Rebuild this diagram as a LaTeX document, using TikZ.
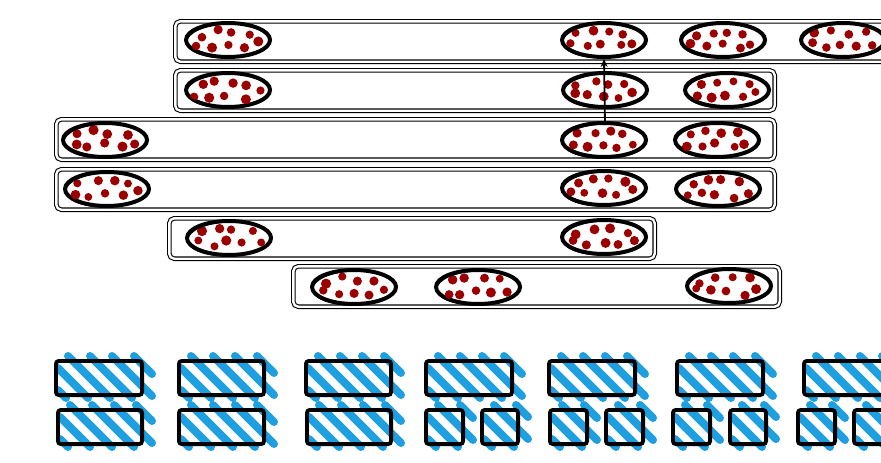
\documentclass[tikz,border=0pt]{standalone}
\usetikzlibrary{shapes.geometric,arrows.meta}
\definecolor{dotred}{HTML}{9A0000}
\definecolor{hatchblue}{HTML}{1E9FE0}
\tikzset{
 bar/.style={draw, double=white, double distance=2.4pt, line width=1.1pt, rounded corners=5pt, inner sep=0pt, minimum height=40.4pt},
 ell/.style={ellipse, draw, fill=white, line width=4pt, minimum width=84pt, minimum height=34pt, inner sep=0pt},
 hatch/.style={hatchblue, line width=8pt, line cap=round},
 hbox/.style={draw, line width=3.8pt, rounded corners=3pt, inner sep=0pt},
 blob/.pic={
   \node[ell] (-e) at (0,0) {};
   \foreach \bx/\by in {-27/-5,-11/-8,5/-7,21/-6,-31/5,-17/6,-1/5,15/7,30/3}{
     \pgfmathsetmacro\jx{\bx+rnd*6-3}
     \pgfmathsetmacro\jy{\by+rnd*5-2.5}
     \pgfmathsetmacro\dr{3.9+rnd*1.2}
     \fill[dotred] (\jx,\jy) circle (\dr pt);
   }
   \draw[line width=1.8pt, rotate=2] (0.5,0.5) ellipse (42 and 17);
 }
}
\newcommand\barbox[5]{%
  \pgfmathsetmacro\bw{#4-#2-4.6}%
  \node[bar, minimum width=\bw pt] (#1) at ({(#2+#4)/2},{(#3+#5)/2}) {};}
\newcommand\hbx[5]{%
  \pgfmathsetmacro\xa{#2+4}\pgfmathsetmacro\xb{#4+8}%
  \pgfmathsetmacro\ya{#3-3}\pgfmathsetmacro\yb{#5+1}%
  \foreach \k in {0,...,9}{%
    \pgfmathsetmacro\cc{\xa-\yb+8+22*\k}%
    \pgfmathsetmacro\sx{max(\cc+\ya,\xa)}\pgfmathsetmacro\sy{\sx-\cc}%
    \pgfmathsetmacro\ex{min(\cc+\yb,\xb)}\pgfmathsetmacro\ey{\ex-\cc}%
    \ifdim\sx pt<\ex pt \draw[hatch] (\sx,\sy) -- (\ex,\ey);\fi
    \ifdim\sx pt=\ex pt \draw[hatch] (\sx,\sy) -- (\ex,\ey);\fi
  }%
  \pgfmathsetmacro\hw{#4-#2-3.8}\pgfmathsetmacro\hh{#5-#3-3.8}%
  \node[hbox, minimum width=\hw pt, minimum height=\hh pt] (#1) at ({(#2+#4)/2},{(#3+#5)/2}) {};}
\begin{document}
\begin{tikzpicture}[x=1pt,y=-1pt]
\useasboundingbox (0,0) rectangle (881,463);
\pgfmathsetseed{11}
% bars
\barbox{b1}{173}{19}{895}{64}
\barbox{b2}{173}{68}{777}{113}
\barbox{b3}{54}{117}{777}{162}
\barbox{b4}{54}{167}{777}{212}
\barbox{b5}{167}{216}{657}{261}
\barbox{b6}{291}{264}{782}{309}
% ellipses
\pic (e11) at (228,40) {blob};
\pic (e12) at (604,40) {blob};
\pic (e13) at (723,40) {blob};
\pic (e14) at (843,40) {blob};
\pic (e21) at (228,90) {blob};
\pic (e22) at (605,90) {blob};
\pic (e23) at (727,90) {blob};
\pic (e31) at (105,140) {blob};
\pic (e32) at (604,140) {blob};
\pic (e33) at (717,140) {blob};
\pic (e41) at (107,189) {blob};
\pic (e42) at (604,188) {blob};
\pic (e43) at (718,189) {blob};
\pic (e51) at (229,238) {blob};
\pic (e52) at (604,237) {blob};
\pic (e61) at (354,287) {blob};
\pic (e62) at (478,287) {blob};
\pic (e63) at (729,286) {blob};
% arrow
\coordinate (astart) at (605,124);
\draw[line width=1.8pt, -{Stealth[length=8pt,width=7pt]}] (astart) -- (e12-e.south);
% bottom hatched boxes, row 1
\hbx{t1}{54}{359}{144}{397}
\hbx{t2}{177}{359}{266}{397}
\hbx{t3}{304}{359}{393}{397}
\hbx{t4}{424}{359}{514}{397}
\hbx{t5}{547}{359}{637}{397}
\hbx{t6}{675}{359}{765}{397}
\hbx{t7}{802}{359}{895}{397}
% row 2
\hbx{u1}{56}{408}{144}{446}
\hbx{u2}{177}{408}{266}{446}
\hbx{u3}{305}{408}{393}{446}
\hbx{u4a}{424}{408}{465}{446}
\hbx{u4b}{480}{408}{520}{446}
\hbx{u5a}{548}{408}{589}{446}
\hbx{u5b}{604}{408}{645}{446}
\hbx{u6a}{671}{408}{712}{446}
\hbx{u6b}{728}{408}{768}{446}
\hbx{u7a}{796}{408}{837}{446}
\hbx{u7b}{852}{408}{893}{446}
\end{tikzpicture}
\end{document}
